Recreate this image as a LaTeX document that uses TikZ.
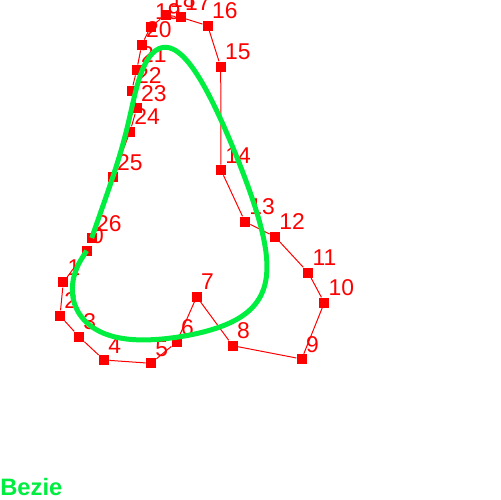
\documentclass[tikz,border=0pt]{standalone}
\usepackage{fontspec}
\setmainfont{Liberation Sans}
\usepackage{tikz}
\usetikzlibrary{positioning}

\definecolor{curvegreen}{RGB}{0,238,64}

% control points: index / x / y (pixels, y pointing down)
\def\ctrlpts{0/86.7/250.7,1/63.3/282.3,2/60/315.7,3/79/336.7,4/104/360,5/151/363.3,6/176.7/342,7/196.7/296.7,8/232.7/345.7,9/301.7/359,10/324.3/302.7,11/308.3/272.7,12/275/236.7,13/245/221.7,14/221/170,15/220.7/66.7,16/207.7/25.7,17/180.7/17.3,18/165.7/15,19/150.7/26.7,20/141.7/45,21/136.7/70,22/131.7/90.7,23/136.7/108.3,24/130/131.7,25/112.7/177.3,26/91.7/238}

% sample the degree-26 Bezier curve (de Casteljau)
\makeatletter
\newcount\bz@i \newcount\bz@j \newcount\bz@k
\foreach \i/\px/\py in \ctrlpts {%
  \expandafter\xdef\csname bzx\i\endcsname{\px pt}%
  \expandafter\xdef\csname bzy\i\endcsname{\py pt}%
}
\def\bz@copy{%
  \ifnum\bz@i>26 \else
    \expandafter\edef\csname bzqx\the\bz@i\endcsname{\csname bzx\the\bz@i\endcsname}%
    \expandafter\edef\csname bzqy\the\bz@i\endcsname{\csname bzy\the\bz@i\endcsname}%
    \advance\bz@i 1
    \expandafter\bz@copy
  \fi}
\def\bz@step{%
  \ifnum\bz@i<\bz@j
    \edef\bz@n{\the\numexpr\bz@i+1\relax}%
    \expandafter\edef\csname bzqx\the\bz@i\endcsname{\the\dimexpr\bz@s\dimexpr\csname bzqx\the\bz@i\endcsname\relax+\bz@t\dimexpr\csname bzqx\bz@n\endcsname\relax\relax}%
    \expandafter\edef\csname bzqy\the\bz@i\endcsname{\the\dimexpr\bz@s\dimexpr\csname bzqy\the\bz@i\endcsname\relax+\bz@t\dimexpr\csname bzqy\bz@n\endcsname\relax\relax}%
    \advance\bz@i 1
    \expandafter\bz@step
  \fi}
\def\bz@outer{%
  \ifnum\bz@j>0
    \bz@i=0 \bz@step
    \advance\bz@j -1
    \expandafter\bz@outer
  \fi}
\def\bezpath{}
\bz@k=0
\loop
  \edef\bz@t{\strip@pt\dimexpr 1pt*\bz@k/60\relax}%
  \edef\bz@s{\strip@pt\dimexpr 1pt-\bz@t pt\relax}%
  \bz@i=0 \bz@copy
  \bz@j=26 \bz@outer
  \edef\bezpath{\bezpath (\strip@pt\dimexpr\csname bzqx0\endcsname\relax,\strip@pt\dimexpr\csname bzqy0\endcsname\relax)}%
\ifnum\bz@k<60 \advance\bz@k 1 \repeat
\makeatother

\begin{document}
\begin{tikzpicture}[
  x=0.02cm, y=-0.02cm,
  ctrlpt/.style={rectangle, fill=red, inner sep=0pt, minimum size=0.2cm},
  ptlabel/.style={anchor=base west, inner sep=0pt, text=red, font=\fontsize{13pt}{15pt}\selectfont},
  polyline/.style={red, line width=0.02cm},
  bezcurve/.style={curvegreen, line width=0.1cm},
  titletext/.style={anchor=base west, inner sep=0pt, text=curvegreen, font=\bfseries\fontsize{13.5pt}{16pt}\selectfont}
]
  \useasboundingbox (0,0) rectangle (500,500);

  \foreach \i/\px/\py in \ctrlpts {
    \node[ctrlpt] (p\i) at (\px,\py) {};
    \node[ptlabel] (l\i) at ([shift={(4,-7)}]p\i.center) {\i};
  }
  \foreach \i [evaluate=\i as \j using int(\i+1)] in {0,...,25}
    \draw[polyline] (p\i) -- (p\j);

  \edef\bezdraw{\noexpand\draw[bezcurve] plot[smooth] coordinates {\bezpath};}
  \bezdraw

  \node[titletext] (title) at (0,495) {Bezie};
\end{tikzpicture}
\end{document}
